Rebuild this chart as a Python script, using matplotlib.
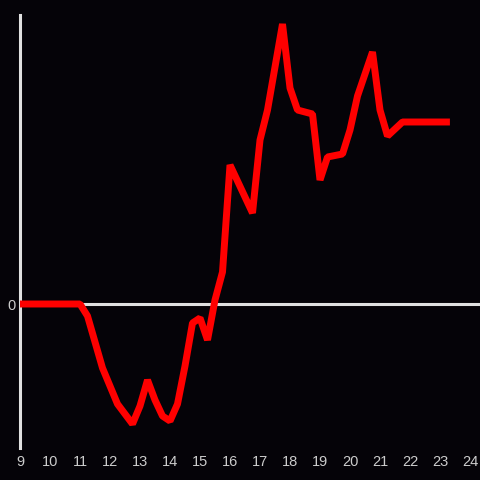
import matplotlib
matplotlib.use("Agg")
import matplotlib.pyplot as plt

hours = [9.0, 11.0, 11.25, 11.75, 12.25, 12.75, 13.0, 13.25, 13.5, 13.75, 14.0,
         14.25, 14.5, 14.75, 15.0, 15.25, 15.5, 15.75, 16.0, 16.75, 17.0, 17.25,
         17.75, 18.0, 18.25, 18.75, 19.0, 19.25, 19.75, 20.0, 20.25, 20.75, 21.0,
         21.25, 21.75, 23.33]
values = [0.0, 0.0, -1.2, -6.4, -10.0, -12.0, -10.2, -7.6, -9.6, -11.2, -11.7,
          -10.0, -6.2, -1.9, -1.4, -3.6, 0.4, 3.2, 13.9, 9.1, 16.4, 19.4,
          28.0, 21.6, 19.4, 19.0, 12.4, 14.7, 15.0, 17.4, 20.8, 25.2, 19.4,
          16.8, 18.2, 18.2]
xticks = list(range(9, 25))

bg = "#050308"
fig = plt.figure(figsize=(4.8, 4.8), dpi=100, facecolor=bg)
ax = fig.add_axes([20/480, 32/480, 460/480, 433/480], facecolor=bg)

ax.axhline(0, color="#e0e0e0", lw=2.2, zorder=1)
ax.plot(hours, values, color="#ff0000", lw=5, solid_joinstyle="bevel",
        solid_capstyle="butt", zorder=3)

ax.set_xlim(9, 24.333)
ax.set_ylim(-14.4, 28.9)

for s in ["top", "right", "bottom"]:
    ax.spines[s].set_visible(False)
ax.spines["left"].set_color("#e0e0e0")
ax.spines["left"].set_linewidth(2.2)

ax.set_xticks(xticks)
ax.set_xticklabels([str(t) for t in xticks])
ax.set_yticks([0])
ax.set_yticklabels(["0"])
ax.tick_params(axis="both", length=0, colors="#cccccc", labelsize=10.5)
ax.tick_params(axis="x", pad=5)
ax.tick_params(axis="y", pad=3)
for lbl in ax.get_xticklabels() + ax.get_yticklabels():
    lbl.set_family("Liberation Sans")
    lbl.set_color("#cccccc")

fig.savefig("out.png", dpi=100, facecolor=bg)
